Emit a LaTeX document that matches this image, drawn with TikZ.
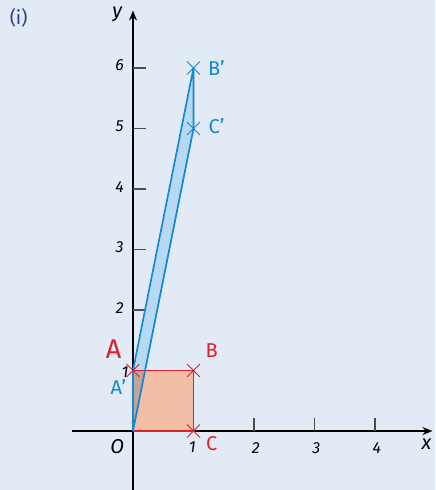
\documentclass[tikz,border=0pt]{standalone}
\usepackage{fontspec}
\setmainfont{Fira Sans}
\usetikzlibrary{arrows.meta,shapes.misc}
\definecolor{bg}{HTML}{E2EAF5}
\definecolor{redc}{HTML}{DA2128}
\definecolor{bluec}{HTML}{1189D3}
\definecolor{sqfill}{HTML}{F2BEA6}
\definecolor{trfill}{HTML}{B7D8F1}
\definecolor{ovfill}{HTML}{C3A49C}
\definecolor{titlec}{HTML}{2E3C8C}
\begin{document}
\begin{tikzpicture}[x=60.5pt,y=60.5pt,
  axis/.style={line width=1.5pt,black},
  tick/.style={line width=1.2pt,black!70},
  num/.style={font=\fontsize{16}{16}\selectfont\itshape\mdseries,text=black,inner sep=0pt},
  let/.style={font=\fontsize{20}{20}\selectfont\itshape,text=black,inner sep=0pt},
  rcross/.style={cross out,draw=redc,line width=0.9pt,minimum size=12pt,inner sep=0pt},
  bcross/.style={cross out,draw=bluec,line width=0.9pt,minimum size=12pt,inner sep=0pt},
  rlab/.style={text=redc,inner sep=0pt,font=\fontsize{20}{20}\selectfont},
  blab/.style={text=bluec,inner sep=0pt,font=\fontsize{20}{20}\selectfont}]
\fill[bg] (-2.198,-0.975) rectangle (4.992,7.124);
\useasboundingbox (-2.198,-0.975) rectangle (4.992,7.124);
\node[text=titlec,font=\fontsize{19}{19}\selectfont,anchor=north west,inner sep=0pt] (title) at (-2.04,6.98) {(i)};
% points
\coordinate (O) at (0,0);
\coordinate (A) at (0,1);
\coordinate (B) at (1,1);
\coordinate (C) at (1,0);
\coordinate (Bp) at (1,6);
\coordinate (Cp) at (1,5);
\coordinate (M) at (0.2,1);
% fills
\fill[sqfill] (O) -- (A) -- (B) -- (C) -- cycle;
\fill[trfill] (O) -- (A) -- (Bp) -- (Cp) -- cycle;
\fill[ovfill] (O) -- (A) -- (M) -- cycle;
% axes
\coordinate (xs) at (-1.0,0);
\coordinate (xe) at (4.95,0);
\coordinate (ys) at (0,-0.98);
\coordinate (ye) at (0,6.95);
\draw[axis,-{Stealth[length=10pt,width=8pt]}] (xs) -- (xe);
\draw[axis,-{Stealth[length=10pt,width=8pt]}] (ys) -- (ye);
\foreach \i in {2,3,4}{
  \draw[tick] (\i,0) -- (\i,0.21);
  \node[num] (xl\i) at (\i+0.03,-0.29) {\i};
}
\foreach \i in {2,...,6}{
  \draw[tick] (0,\i) -- (0.21,\i);
  \node[num] (yl\i) at (-0.22,\i+0.04) {\i};
}
\node[num] (yl1) at (-0.13,0.97) {1};
\node[num] (xl1) at (0.98,-0.27) {1};
\node[let] (olab) at (-0.26,-0.26) {O};
\node[let] (xlab) at (4.85,-0.22) {x};
\node[let] (ylab) at (-0.26,6.89) {y};
% square
\draw[redc,line width=1.4pt,line join=round] (A) -- (B) -- (C) -- (O);
% image
\draw[bluec,line width=1.7pt,line join=round] (O) -- (Cp) -- (Bp) -- (A) -- (O);
% crosses
\node[rcross] (xA) at (A) {};
\node[rcross] (xB) at (B) {};
\node[rcross] (xC) at (C) {};
\node[bcross] (xBp) at (Bp) {};
\node[bcross] (xCp) at (Cp) {};
% labels
\node[rlab,font=\fontsize{27}{27}\selectfont] (lA) at (-0.32,1.36) {A};
\node[rlab] (lB) at (1.3,1.33) {B};
\node[rlab] (lC) at (1.3,-0.2) {C};
\node[blab] (lAp) at (-0.24,0.72) {A'};
\node[blab] (lBp) at (1.38,6.0) {B'};
\node[blab] (lCp) at (1.38,5.04) {C'};
\end{tikzpicture}
\end{document}
